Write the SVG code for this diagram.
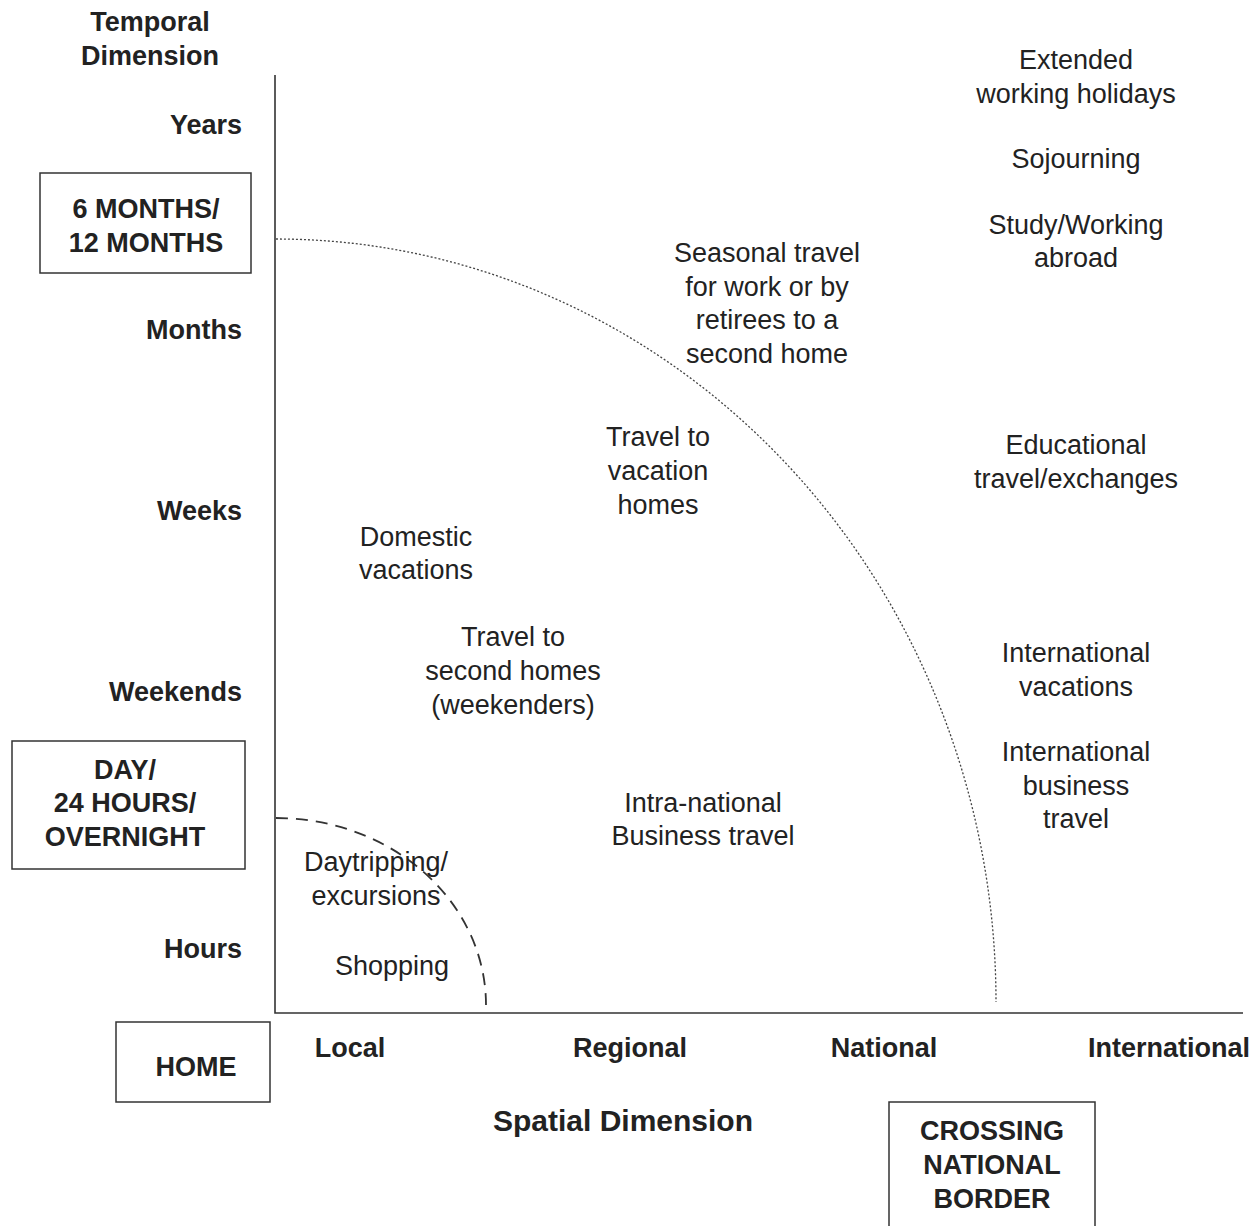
<svg xmlns="http://www.w3.org/2000/svg" width="1257" height="1226" viewBox="0 0 1257 1226">
<style>
text{font-family:"Liberation Sans",Arial,sans-serif;font-size:27px;fill:#222;}
.b{font-weight:bold;}
.r{text-anchor:end;}
.c{text-anchor:middle;}
.box{fill:none;stroke:#333;stroke-width:1.5;}
.axis{fill:none;stroke:#333;stroke-width:1.6;}
</style>
<rect width="1257" height="1226" fill="#fff"/>
<g id="connectors">
<path id="axis" class="axis" d="M275,75 V1013 H1243"/>
<path id="boundary-national" d="M276,239 A720,763 0 0 1 996,1002" fill="none" stroke="#444" stroke-width="1.3" stroke-dasharray="2,2"/>
<path id="boundary-day" d="M276,818 A210,187 0 0 1 486,1005" fill="none" stroke="#333" stroke-width="1.8" stroke-dasharray="12,8"/>
</g>
<g id="axis-title-temporal"><text class="b c" x="150" y="31">Temporal</text><text class="b c" x="150" y="65">Dimension</text></g>
<g id="tick-years"><text class="b r" x="242" y="134">Years</text></g>
<g id="tick-months"><text class="b r" x="242" y="339">Months</text></g>
<g id="tick-weeks"><text class="b r" x="242" y="520">Weeks</text></g>
<g id="tick-weekends"><text class="b r" x="242" y="701">Weekends</text></g>
<g id="tick-hours"><text class="b r" x="242" y="958">Hours</text></g>
<g id="box-6months"><rect class="box" x="40" y="173" width="211" height="100"/><text class="b c" x="146" y="218">6 MONTHS/</text><text class="b c" x="146" y="252">12 MONTHS</text></g>
<g id="box-day"><rect class="box" x="12" y="741" width="233" height="128"/><text class="b c" x="125" y="779">DAY/</text><text class="b c" x="125" y="812">24 HOURS/</text><text class="b c" x="125" y="846">OVERNIGHT</text></g>
<g id="box-home"><rect class="box" x="116" y="1022" width="154" height="80"/><text class="b c" x="196" y="1076">HOME</text></g>
<g id="box-border"><rect class="box" x="889" y="1102" width="206" height="130"/><text class="b c" x="992" y="1140">CROSSING</text><text class="b c" x="992" y="1174">NATIONAL</text><text class="b c" x="992" y="1208">BORDER</text></g>
<g id="tick-local"><text class="b c" x="350" y="1057">Local</text></g>
<g id="tick-regional"><text class="b c" x="630" y="1057">Regional</text></g>
<g id="tick-national"><text class="b c" x="884" y="1057">National</text></g>
<g id="tick-international"><text class="b c" x="1169" y="1057">International</text></g>
<g id="axis-title-spatial"><text class="b c" x="623" y="1131" style="font-size:30px">Spatial Dimension</text></g>
<g id="extended"><text class="c" x="1076" y="69">Extended</text><text class="c" x="1076" y="103">working holidays</text></g>
<g id="sojourning"><text class="c" x="1076" y="168">Sojourning</text></g>
<g id="study"><text class="c" x="1076" y="234">Study/Working</text><text class="c" x="1076" y="267">abroad</text></g>
<g id="seasonal"><text class="c" x="767" y="262">Seasonal travel</text><text class="c" x="767" y="296">for work or by</text><text class="c" x="767" y="329">retirees to a</text><text class="c" x="767" y="363">second home</text></g>
<g id="vacation-homes"><text class="c" x="658" y="446">Travel to</text><text class="c" x="658" y="480">vacation</text><text class="c" x="658" y="514">homes</text></g>
<g id="educational"><text class="c" x="1076" y="454">Educational</text><text class="c" x="1076" y="488">travel/exchanges</text></g>
<g id="domestic"><text class="c" x="416" y="546">Domestic</text><text class="c" x="416" y="579">vacations</text></g>
<g id="second-homes"><text class="c" x="513" y="646">Travel to</text><text class="c" x="513" y="680">second homes</text><text class="c" x="513" y="714">(weekenders)</text></g>
<g id="intl-vacations"><text class="c" x="1076" y="662">International</text><text class="c" x="1076" y="696">vacations</text></g>
<g id="intl-business"><text class="c" x="1076" y="761">International</text><text class="c" x="1076" y="795">business</text><text class="c" x="1076" y="828">travel</text></g>
<g id="intra-national"><text class="c" x="703" y="812">Intra-national</text><text class="c" x="703" y="845">Business travel</text></g>
<g id="daytripping"><text class="c" x="376" y="871">Daytripping/</text><text class="c" x="376" y="905">excursions</text></g>
<g id="shopping"><text class="c" x="392" y="975">Shopping</text></g>
</svg>
